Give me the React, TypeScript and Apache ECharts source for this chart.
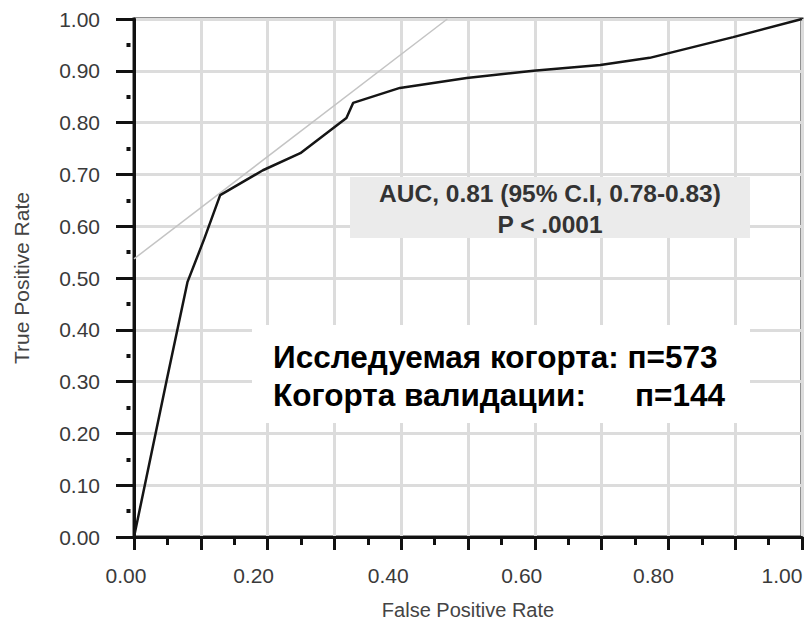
import React, { useEffect, useRef } from "react";
import * as echarts from "echarts";

// ROC curve points (false positive rate, true positive rate)
const fprValues = [0, 0.049, 0.08, 0.105, 0.129, 0.193, 0.249, 0.318, 0.328, 0.398, 0.498, 0.598, 0.698, 0.772, 0.897, 1.0];
const tprValues = [0, 0.303, 0.492, 0.575, 0.66, 0.708, 0.741, 0.809, 0.838, 0.867, 0.886, 0.9, 0.911, 0.925, 0.965, 1.0];

// Light reference line
const refX = [0, 0.469];
const refY = [0.537, 1.0];

const xTicks = [0, 0.2, 0.4, 0.6, 0.8, 1.0];

const aucLine = "AUC, 0.81 (95% C.I, 0.78-0.83)";
const pLine = "P < .0001";
const cohortLine1 = "Исследуемая когорта: п=573";
const cohortLine2Left = "Когорта валидации:";
const cohortLine2Right = "п=144";

const FONT = "'Liberation Sans', Arial, sans-serif";

// per-label right padding for the x tick labels (they sit a little left of their ticks)
const xLabelShift = [16, 28, 26, 26, 30, 40];

export default function App() {
  const ref = useRef<HTMLDivElement>(null);

  useEffect(() => {
    if (!ref.current) return;
    const chart = echarts.init(ref.current, null, { renderer: "svg" });

    const curve = fprValues.map((x, i) => [x, tprValues[i]]);
    const refLine = refX.map((x, i) => [x, refY[i]]);

    const xRich: Record<string, any> = {};
    xLabelShift.forEach((p, i) => {
      xRich["l" + i] = {
        fontFamily: FONT,
        fontSize: 21,
        color: "#3a3a3a",
        padding: [0, p, 0, 0],
      };
    });

    const boldText = (text: string, x: number, y: number, size: number, fill: string, align: string) => ({
      type: "text",
      x,
      y,
      z: 11,
      style: {
        text,
        fontFamily: FONT,
        fontWeight: "bold",
        fontSize: size,
        fill,
        align,
        verticalAlign: "middle",
      },
    });

    chart.setOption({
      animation: false,
      backgroundColor: "#ffffff",
      grid: {
        left: 134,
        top: 19,
        right: 7,
        bottom: 83,
        outerBoundsMode: "none",
        containLabel: false,
        show: true,
        borderColor: "#222",
        borderWidth: 3,
        backgroundColor: "transparent",
      },
      xAxis: {
        type: "value",
        min: 0,
        max: 1,
        interval: 0.1,
        name: "False Positive Rate",
        nameLocation: "middle",
        nameGap: 63,
        nameTextStyle: { fontFamily: FONT, fontSize: 20, color: "#444" },
        axisLine: { show: true, lineStyle: { color: "#111", width: 3 } },
        axisTick: { show: true, length: 13, lineStyle: { color: "#111", width: 3 } },
        minorTick: { show: true, splitNumber: 2, length: 8, lineStyle: { color: "#111", width: 3 } },
        splitLine: { show: true, lineStyle: { color: "#dcdcdc", width: 3 } },
        axisLabel: {
          fontFamily: FONT,
          fontSize: 21,
          color: "#3a3a3a",
          margin: 28,
          rich: xRich,
          formatter: (v: number) => {
            const idx = xTicks.findIndex((t) => Math.abs(t - v) < 1e-6);
            return idx >= 0 ? `{l${idx}|${v.toFixed(2)}}` : "";
          },
        },
      },
      yAxis: {
        type: "value",
        min: 0,
        max: 1,
        interval: 0.1,
        name: "True Positive Rate",
        nameLocation: "middle",
        nameGap: 102,
        nameRotate: 90,
        nameTextStyle: { fontFamily: FONT, fontSize: 21, color: "#444" },
        axisLine: { show: true, lineStyle: { color: "#111", width: 3 } },
        axisTick: { show: true, length: 18, lineStyle: { color: "#111", width: 3 } },
        // small detached dots between the labelled ticks
        minorTick: {
          show: true,
          splitNumber: 2,
          length: 8,
          lineStyle: { color: "#111", width: 4, type: [0.01, 3.5, 4, 20] },
        },
        splitLine: { show: true, lineStyle: { color: "#dcdcdc", width: 3 } },
        axisLabel: {
          fontFamily: FONT,
          fontSize: 21,
          color: "#3a3a3a",
          margin: 34,
          padding: [6, 0, 0, 0],
          formatter: (v: number) => v.toFixed(2),
        },
      },
      series: [
        {
          type: "line",
          data: refLine,
          showSymbol: false,
          lineStyle: { color: "#c4c4c4", width: 1.5 },
          z: 3,
        },
        {
          type: "line",
          data: curve,
          showSymbol: false,
          lineStyle: { color: "#151515", width: 2.5 },
          z: 4,
        },
      ],
      graphic: [
        {
          type: "rect",
          shape: { x: 350, y: 177, width: 400, height: 61 },
          style: { fill: "#ebebeb" },
          z: 10,
        },
        boldText(aucLine, 550, 193, 24.5, "#333", "center"),
        boldText(pLine, 550, 224, 24.5, "#333", "center"),
        {
          type: "rect",
          shape: { x: 252, y: 325, width: 498, height: 98 },
          style: { fill: "#ffffff" },
          z: 10,
        },
        boldText(cohortLine1, 273, 357, 31.5, "#000", "left"),
        boldText(cohortLine2Left, 273, 395, 31.5, "#000", "left"),
        boldText(cohortLine2Right, 725, 395, 31.5, "#000", "right"),
      ],
    });

    return () => chart.dispose();
  }, []);

  return (
    <div
      ref={ref}
      style={{ position: "fixed", left: 0, top: 0, width: 809, height: 620, background: "#fff" }}
    />
  );
}
